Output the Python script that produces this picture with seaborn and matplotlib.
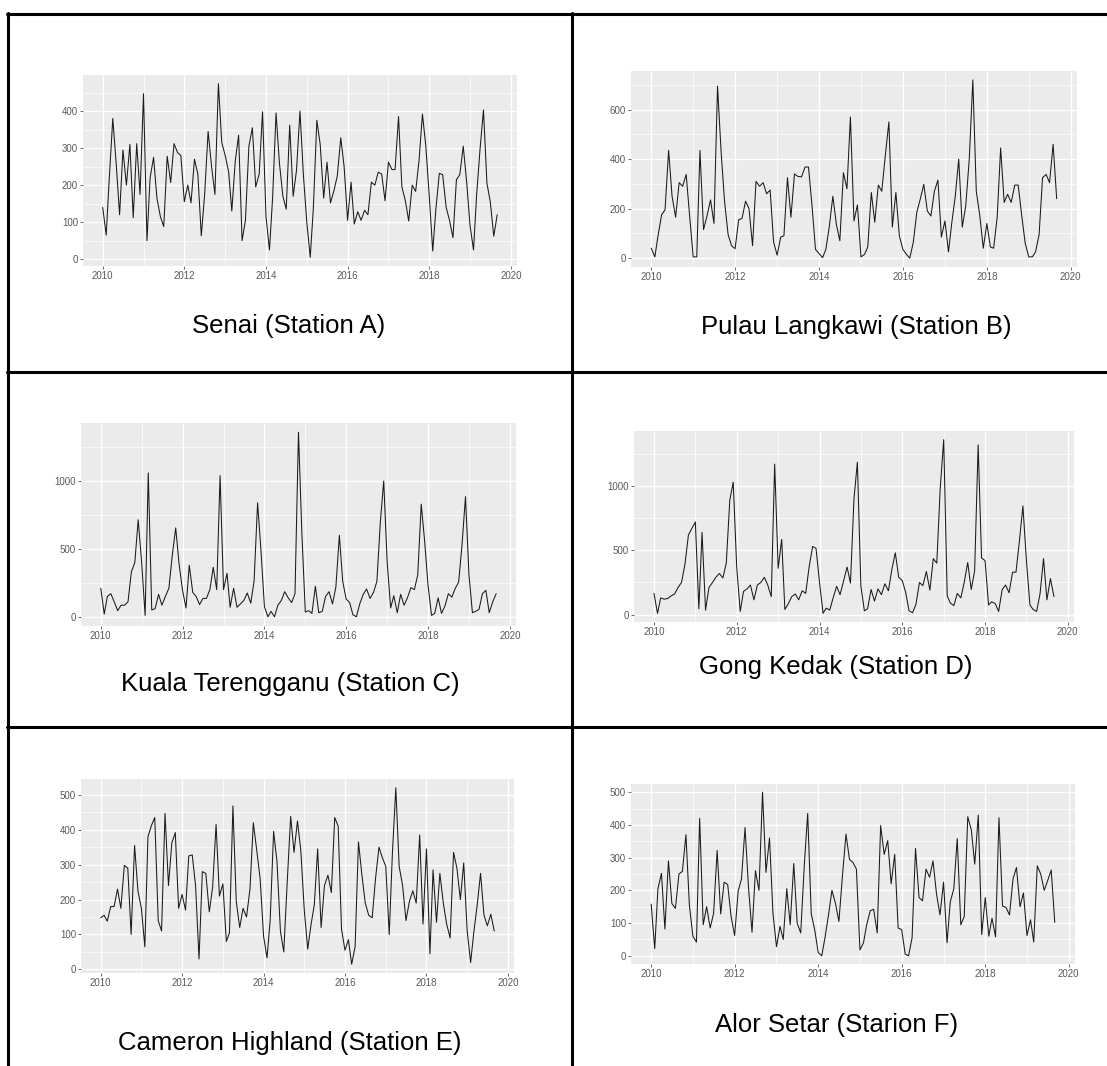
import numpy as np
import pandas as pd
import matplotlib
matplotlib.use('Agg')
import matplotlib.pyplot as plt
import matplotlib.dates as mdates
from matplotlib.ticker import MultipleLocator
from matplotlib.lines import Line2D
import seaborn as sns

# monthly totals, Jan 2010 - Sep 2019
months = pd.date_range('2010-01-01', periods=117, freq='MS')

senai = [140, 65, 220, 380, 260, 120, 295, 200, 310, 112, 312, 175,
         447, 50, 220, 275, 165, 115, 88, 278, 207, 312, 288, 280,
         155, 200, 152, 270, 230, 63, 175, 345, 250, 175, 474, 315,
         280, 235, 130, 265, 335, 50, 105, 305, 355, 195, 230, 398,
         115, 25, 165, 395, 260, 170, 135, 362, 170, 240, 400, 230,
         100, 5, 140, 375, 310, 165, 262, 152, 185, 225, 328, 250,
         105, 208, 95, 128, 105, 132, 120, 208, 200, 235, 230, 158,
         262, 242, 242, 385, 195, 158, 103, 200, 183, 265, 392, 305,
         170, 22, 135, 232, 228, 140, 105, 58, 215, 228, 305, 210,
         90, 25, 175, 300, 403, 205, 155, 62, 120]

langkawi = [40, 5, 90, 175, 195, 435, 250, 165, 305, 290, 338, 170,
            5, 5, 435, 115, 170, 235, 140, 695, 430, 230, 95, 50,
            38, 155, 160, 230, 200, 50, 310, 290, 305, 260, 275, 65,
            12, 85, 90, 325, 165, 340, 330, 328, 368, 368, 210, 35,
            18, 2, 35, 130, 250, 135, 70, 345, 280, 570, 150, 215,
            5, 15, 45, 265, 145, 295, 270, 415, 550, 125, 265, 90,
            35, 15, 0, 65, 185, 240, 298, 190, 170, 270, 315, 85,
            150, 25, 140, 250, 400, 125, 210, 400, 720, 270, 170, 40,
            140, 45, 40, 165, 445, 225, 258, 225, 295, 295, 170, 60,
            5, 5, 25, 95, 325, 338, 305, 460, 240]

terengganu = [210, 20, 150, 170, 110, 45, 85, 85, 110, 330, 400, 715,
              400, 10, 1060, 50, 60, 165, 85, 150, 210, 450, 655, 390,
              195, 65, 380, 180, 150, 90, 135, 135, 200, 365, 200, 1040,
              200, 320, 70, 210, 70, 95, 120, 175, 100, 265, 840, 490,
              75, 0, 40, 0, 85, 120, 185, 140, 105, 170, 1360, 620,
              35, 45, 25, 225, 30, 40, 150, 185, 95, 220, 600, 260,
              130, 105, 15, 0, 95, 165, 205, 135, 180, 260, 700, 1000,
              400, 65, 155, 30, 165, 85, 140, 215, 200, 310, 830, 560,
              230, 10, 25, 140, 25, 80, 170, 145, 210, 255, 540, 885,
              310, 30, 40, 55, 170, 195, 30, 110, 170]

gong_kedak = [165, 10, 130, 120, 125, 145, 160, 210, 250, 390, 620, 670,
              720, 45, 640, 35, 210, 250, 290, 320, 285, 400, 890, 1030,
              370, 25, 180, 200, 230, 115, 230, 250, 290, 230, 140, 1170,
              360, 585, 40, 85, 140, 160, 115, 185, 165, 370, 530, 515,
              250, 10, 50, 35, 130, 220, 155, 260, 370, 245, 900, 1185,
              220, 30, 45, 195, 105, 200, 155, 240, 185, 350, 480, 290,
              265, 170, 30, 15, 80, 250, 225, 335, 190, 435, 400, 980,
              1360, 145, 90, 70, 165, 130, 250, 405, 195, 340, 1320, 440,
              420, 75, 100, 85, 25, 195, 230, 170, 330, 330, 580, 845,
              420, 75, 40, 25, 160, 435, 115, 280, 140]

cameron = [148, 155, 138, 180, 180, 230, 175, 298, 290, 100, 355, 225,
           175, 65, 380, 412, 435, 140, 110, 447, 240, 362, 392, 175,
           215, 170, 325, 328, 240, 30, 280, 275, 165, 235, 415, 210,
           245, 80, 105, 468, 195, 120, 175, 150, 230, 420, 340, 260,
           95, 33, 140, 395, 310, 110, 50, 250, 438, 335, 425, 340,
           170, 58, 125, 185, 345, 120, 240, 270, 220, 435, 410, 115,
           55, 85, 15, 65, 365, 270, 190, 155, 148, 260, 350, 320,
           295, 100, 330, 520, 295, 240, 140, 195, 225, 190, 385, 130,
           345, 45, 285, 135, 275, 190, 130, 90, 335, 290, 200, 305,
           110, 20, 105, 185, 275, 155, 125, 158, 110]

alor_setar = [158, 22, 205, 252, 82, 290, 160, 145, 250, 258, 370, 155,
              60, 42, 420, 95, 150, 85, 130, 322, 128, 225, 218, 120,
              62, 198, 235, 392, 210, 72, 260, 200, 500, 255, 360, 130,
              28, 90, 50, 205, 95, 282, 100, 70, 275, 435, 128, 80,
              10, 0, 55, 125, 200, 160, 105, 245, 372, 295, 285, 265,
              18, 40, 95, 138, 142, 70, 398, 310, 352, 220, 310, 85,
              80, 5, 0, 55, 328, 178, 168, 265, 240, 290, 188, 125,
              225, 40, 165, 205, 358, 95, 120, 425, 385, 280, 430, 65,
              178, 60, 115, 58, 422, 152, 148, 125, 235, 270, 150, 192,
              62, 110, 42, 275, 250, 200, 230, 262, 102]

captions = ['Senai (Station A)', 'Pulau Langkawi (Station B)',
            'Kuala Terengganu (Station C)', 'Gong Kedak (Station D)',
            'Cameron Highland (Station E)', 'Alor Setar (Starion F)']
series_list = [senai, langkawi, terengganu, gong_kedak, cameron, alor_setar]
y_steps = [100, 200, 500, 500, 100, 100]

sns.set_theme(style='darkgrid', rc={'axes.facecolor': '#EBEBEB',
                                    'grid.color': 'white'})
plt.rcParams['font.family'] = ['Liberation Sans', 'DejaVu Sans']

W, H = 1107, 1066
fig = plt.figure(figsize=(W / 100, H / 100), dpi=100)
fig.patch.set_facecolor('white')

# panel boxes in pixels: x0, y0, x1, y1 (top-left origin)
boxes = [(83, 75, 517, 266), (631, 71, 1077, 267),
         (81, 423, 516, 626), (634, 431, 1074, 622),
         (81, 779, 514, 973), (631, 784, 1075, 964)]
# caption centres in pixels
cap_pos = [(289, 326), (856, 327), (290, 684), (836, 667), (290, 1043), (837, 1025)]

tick_font = ['Liberation Sans Narrow', 'Liberation Sans', 'DejaVu Sans']

for k, (x0, y0, x1, y1) in enumerate(boxes):
    ax = fig.add_axes([x0 / W, 1 - y1 / H, (x1 - x0) / W, (y1 - y0) / H])
    df = pd.DataFrame({'month': months, 'value': series_list[k]})
    sns.lineplot(data=df, x='month', y='value', ax=ax, color='#1a1a1a',
                 linewidth=0.75)
    ax.margins(x=0.05, y=0.05)
    ax.set_xlim(right=mdates.date2num(pd.Timestamp('2020-02-25')))
    ax.xaxis.set_major_locator(mdates.YearLocator(2))
    ax.xaxis.set_minor_locator(mdates.YearLocator(1))
    ax.xaxis.set_major_formatter(mdates.DateFormatter('%Y'))
    ax.yaxis.set_major_locator(MultipleLocator(y_steps[k]))
    ax.yaxis.set_minor_locator(MultipleLocator(y_steps[k] / 2))
    ax.grid(which='major', color='white', linewidth=1.0)
    ax.grid(which='minor', color='white', linewidth=0.5)
    ax.set_axisbelow(True)
    for s in ax.spines.values():
        s.set_visible(False)
    ax.tick_params(which='major', length=2, width=0.5, color='#333333',
                   labelsize=7, labelcolor='#5a5a5a', pad=1.5,
                   bottom=True, left=True)
    ax.tick_params(which='minor', length=0)
    for lab in ax.get_xticklabels() + ax.get_yticklabels():
        lab.set_family(tick_font)
    ax.set_xlabel('')
    ax.set_ylabel('')
    cx, cy = cap_pos[k]
    fig.text(cx / W, 1 - cy / H, captions[k], ha='center', va='center',
             fontsize=18.5, color='black')

# table borders
def hline(y, xa, xb):
    fig.add_artist(Line2D([xa / W, xb / W], [1 - y / H, 1 - y / H],
                          color='black', linewidth=2.2, transform=fig.transFigure))

def vline(x, ya, yb):
    fig.add_artist(Line2D([x / W, x / W], [1 - ya / H, 1 - yb / H],
                          color='black', linewidth=2.2, transform=fig.transFigure))

hline(14, 7, 1107)
hline(372, 7, 1107)
hline(727, 7, 1107)
vline(8, 13, 1066)
vline(572, 13, 1066)

fig.savefig('out.png', dpi=100, facecolor='white')
